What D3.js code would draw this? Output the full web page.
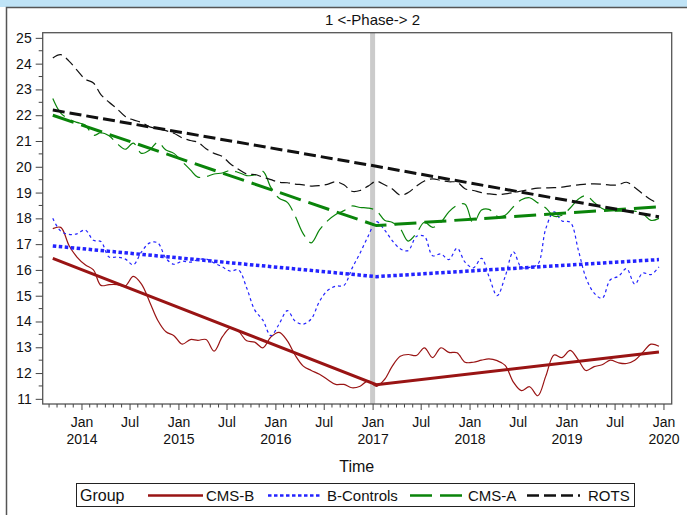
<!DOCTYPE html>
<html>
<head>
<meta charset="utf-8">
<script src="https://cdn.jsdelivr.net/npm/d3@7"></script>
<style>
  body { margin: 0; background: #fff; }
  svg { display: block; font-family: "Liberation Sans", Arial, sans-serif; }
</style>
</head>
<body>
<div id="chart"></div>
<script>
// monthly values, Sep 2013 .. Dec 2019 (mid-month)
var cmsB = [17.6,17.65,16.95,16.5,16.2,16.0,15.4,15.43,15.43,15.38,15.75,15.45,
  14.75,14.05,13.6,13.45,13.12,13.3,13.27,13.3,12.85,13.4,13.74,13.62,
  13.25,13.2,12.98,13.4,13.58,13.25,12.7,12.27,12.1,11.95,11.75,11.56,
  11.56,11.43,11.49,11.7,11.48,11.75,12.25,12.65,12.72,12.68,12.98,12.6,
  12.98,12.8,12.79,12.42,12.42,12.5,12.55,12.48,12.3,11.65,11.32,11.47,
  11.12,11.88,12.7,12.6,12.88,12.5,12.1,12.25,12.32,12.5,12.4,12.37,
  12.5,12.8,13.12,13.04];
var bControls = [18.0,17.5,17.38,17.4,17.55,17.15,17.1,16.5,16.5,16.42,16.2,16.7,
  17.05,17.05,16.45,16.22,16.34,16.3,16.4,16.42,16.27,16.12,15.95,16.0,
  15.3,14.45,14.05,13.45,13.9,14.42,14.02,13.9,14.1,14.78,15.2,15.37,
  15.4,16.05,16.66,17.3,17.87,17.55,17.15,16.82,16.75,17.3,17.3,16.55,
  16.62,16.4,16.84,16.3,16.08,16.45,15.75,15.0,15.74,16.7,16.1,16.1,
  16.22,17.6,18.25,17.9,17.85,16.75,15.7,15.1,14.9,15.62,15.75,16.05,
  15.45,15.88,15.82,16.12];
var cmsA = [22.65,22.08,21.85,21.72,21.62,21.22,21.32,21.2,20.9,20.68,20.92,20.52,
  20.65,20.95,20.65,20.52,20.2,19.88,19.6,19.62,19.72,19.76,19.86,19.78,
  19.66,19.68,19.82,19.2,18.78,18.62,18.1,17.4,17.05,17.55,17.9,18.15,
  18.3,18.48,18.42,18.4,18.3,17.93,17.85,17.6,17.12,17.42,17.85,17.65,
  17.85,18.25,18.5,18.55,17.8,18.32,18.35,18.08,18.12,18.45,18.72,18.8,
  18.6,18.4,18.08,18.12,18.4,18.75,18.88,18.62,18.38,18.28,18.28,18.28,
  18.28,18.18,17.92,18.0];
var rots = [24.22,24.35,24.1,23.75,23.4,23.25,22.8,22.5,22.25,21.95,21.82,21.72,
  21.55,21.48,21.4,21.3,21.12,21.02,20.95,20.7,20.52,20.4,20.12,19.9,
  19.72,19.7,19.6,19.5,19.4,19.38,19.33,19.3,19.25,19.27,19.32,19.42,
  19.3,19.05,19.08,19.25,19.44,19.3,19.15,18.9,19.0,19.25,19.45,19.53,
  19.47,19.42,19.4,19.15,19.08,19.0,18.95,18.92,18.95,19.0,19.06,19.12,
  19.17,19.18,19.19,19.21,19.26,19.3,19.33,19.34,19.32,19.29,19.3,19.4,
  19.2,18.95,18.72,18.57];

// fitted piecewise trends: start, phase break (Jan 2017), end
var trendCmsB = [16.45, 11.55, 12.82];
var trendBControls = [16.93, 15.74, 16.4];
var trendCmsA = [22.0, 17.72, 18.45];
var trendRots = [22.2, 20.02, 18.06];

var groups = ["CMS-B", "B-Controls", "CMS-A", "ROTS"];
var yTicks = d3.range(11, 26);

var months = d3.timeMonth.range(new Date(2013, 8, 1), new Date(2020, 0, 1))
  .map(function(d){ return d3.timeDay.offset(d, 14); });
var trendDates = [months[0], new Date(2017, 0, 15), months[months.length - 1]];

var styles = {
  "CMS-B":      {color: "#991414", raw: null,    trend: null,    tw: 3},
  "B-Controls": {color: "#2323ff", raw: "3,3",   trend: "3.5,2.5", tw: 3.5},
  "CMS-A":      {color: "#0a840a", raw: "22,7",  trend: "22,8",  tw: 3},
  "ROTS":       {color: "#111111", raw: "10,5",  trend: "12,5",  tw: 3}
};
var rawData = {"CMS-B": cmsB, "B-Controls": bControls, "CMS-A": cmsA, "ROTS": rots};
var trendData = {"CMS-B": trendCmsB, "B-Controls": trendBControls, "CMS-A": trendCmsA, "ROTS": trendRots};

var W = 687, H = 515;
var pLeft = 42.7, pRight = 671.7, pTop = 32.7, pBottom = 404;

var svg = d3.select("#chart").append("svg")
  .attr("width", W).attr("height", H);

// outer frame
svg.append("rect").attr("x", 0).attr("y", 0).attr("width", W).attr("height", 7)
  .attr("fill", "#bfe3f6");
svg.append("path").attr("d", "M6.5," + H + "V7.5H" + W)
  .attr("fill", "none").attr("stroke", "#555").attr("stroke-width", 1.5);

var x = d3.scaleTime()
  .domain([new Date(2013, 7, 8), new Date(2020, 1, 1)])
  .range([pLeft, pRight]);
var y = d3.scaleLinear().domain([10.8, 25.2]).range([pBottom, pTop]);

// phase separator
svg.append("line")
  .attr("x1", x(new Date(2017, 0, 1))).attr("x2", x(new Date(2017, 0, 1)))
  .attr("y1", pTop).attr("y2", pBottom)
  .attr("stroke", "#cbcbcb").attr("stroke-width", 5);

svg.append("text")
  .attr("x", x(new Date(2017, 0, 1))).attr("y", 25)
  .attr("text-anchor", "middle").style("font-size", "15px").attr("fill", "#111")
  .text("1 <-Phase-> 2");

// raw lines
var rawLine = d3.line()
  .x(function(d, i){ return x(months[i]); })
  .y(function(d){ return y(d); })
  .curve(d3.curveCatmullRom.alpha(0.5));

groups.forEach(function(g){
  svg.append("path")
    .attr("d", rawLine(rawData[g]))
    .attr("fill", "none")
    .attr("stroke", styles[g].color)
    .attr("stroke-width", 1.2)
    .attr("stroke-dasharray", styles[g].raw);
});

// trend lines
var trendLine = d3.line()
  .x(function(d, i){ return x(trendDates[i]); })
  .y(function(d){ return y(d); });

groups.forEach(function(g){
  svg.append("path")
    .attr("d", trendLine(trendData[g]))
    .attr("fill", "none")
    .attr("stroke", styles[g].color)
    .attr("stroke-width", styles[g].tw)
    .attr("stroke-dasharray", styles[g].trend);
});

// plot frame
svg.append("rect")
  .attr("x", pLeft).attr("y", pTop)
  .attr("width", pRight - pLeft).attr("height", pBottom - pTop)
  .attr("fill", "none").attr("stroke", "#555").attr("stroke-width", 1.3);

// Y axis
var yAxis = d3.axisLeft(y).tickValues(yTicks).tickSize(7).tickPadding(4);
var gy = svg.append("g").attr("transform", "translate(" + pLeft + ",0)").call(yAxis);
gy.select(".domain").remove();
gy.selectAll("line").attr("stroke", "#444");
gy.selectAll("text").style("font-size", "14px").attr("fill", "#111")
  .style("font-family", "Liberation Sans, Arial, sans-serif");
gy.selectAll(".minor").data(d3.range(11.5, 25, 1)).enter().append("line")
  .attr("x1", 0).attr("x2", -4)
  .attr("y1", function(d){ return y(d); }).attr("y2", function(d){ return y(d); })
  .attr("stroke", "#444");

// X axis
var majorX = d3.timeMonth.every(6).range(new Date(2014, 0, 1), new Date(2020, 0, 2));
var minorX = d3.timeMonth.range(new Date(2013, 8, 1), new Date(2020, 1, 1))
  .filter(function(d){ return d.getMonth() % 6 !== 0; });

var xAxis = d3.axisBottom(x).tickValues(majorX).tickSize(6).tickPadding(7)
  .tickFormat(d3.timeFormat("%b"));
var gx = svg.append("g").attr("transform", "translate(0," + pBottom + ")").call(xAxis);
gx.select(".domain").remove();
gx.selectAll("line").attr("stroke", "#444");
gx.selectAll("text").style("font-size", "14px").attr("fill", "#111")
  .style("font-family", "Liberation Sans, Arial, sans-serif");
gx.selectAll(".tick text").filter(function(d){ return d.getMonth() === 0; })
  .append("tspan").attr("x", 0).attr("dy", "1.25em")
  .text(function(d){ return d.getFullYear(); });
gx.selectAll(".minor").data(minorX).enter().append("line")
  .attr("x1", function(d){ return x(d); }).attr("x2", function(d){ return x(d); })
  .attr("y1", 0).attr("y2", 3.5)
  .attr("stroke", "#444");

svg.append("text")
  .attr("x", (pLeft + pRight) / 2 - 0.5).attr("y", 472)
  .attr("text-anchor", "middle").style("font-size", "16px").attr("fill", "#111")
  .text("Time");

// legend
var lg = svg.append("g");
lg.append("rect").attr("x", 76.5).attr("y", 483.5).attr("width", 558).attr("height", 23)
  .attr("fill", "#fff").attr("stroke", "#222").attr("stroke-width", 1);
lg.append("text").attr("x", 80).attr("y", 501).style("font-size", "16px").attr("fill", "#111")
  .text("Group");
var legendPos = [{x1: 148, x2: 203, tx: 206}, {x1: 268, x2: 320, tx: 327},
                 {x1: 410, x2: 462, tx: 468}, {x1: 527, x2: 580, tx: 588}];
groups.forEach(function(g, i){
  var p = legendPos[i];
  lg.append("line").attr("x1", p.x1).attr("x2", p.x2).attr("y1", 495.5).attr("y2", 495.5)
    .attr("stroke", styles[g].color).attr("stroke-width", 2.5)
    .attr("stroke-dasharray", styles[g].trend);
  lg.append("text").attr("x", p.tx).attr("y", 500.5).style("font-size", "15px").attr("fill", "#111")
    .text(g);
});
</script>
</body>
</html>
